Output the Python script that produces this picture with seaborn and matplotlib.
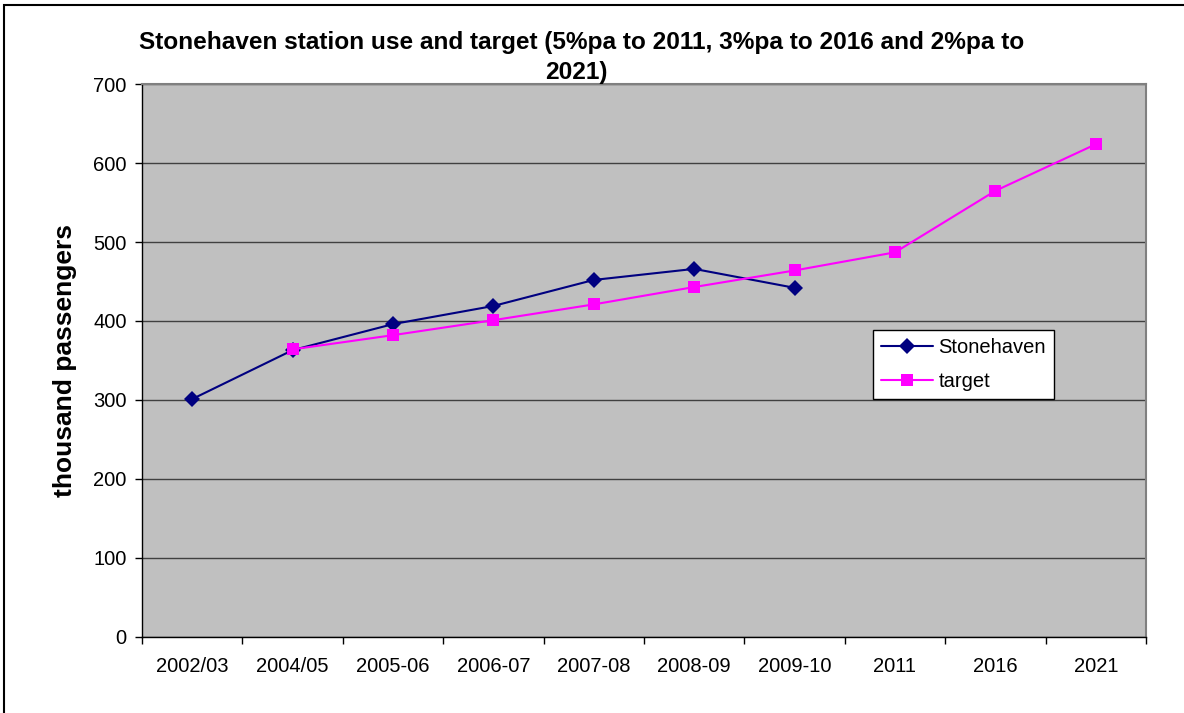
import matplotlib
matplotlib.use("Agg")
import matplotlib.pyplot as plt
import matplotlib.patches as mpatches
import seaborn as sns
import numpy as np
import pandas as pd

categories = ["2002/03", "2004/05", "2005-06", "2006-07", "2007-08", "2008-09",
              "2009-10", "2011", "2016", "2021"]
stonehaven = [301, 363, 396, 419, 452, 466, 442, None, None, None]
target = [None, 364, 382, 401, 421, 443, 464, 487, 565, 624]
y_ticks = [0, 100, 200, 300, 400, 500, 600, 700]

sns.set_theme(style="white")
plt.rcParams['font.family'] = ['Liberation Sans', 'DejaVu Sans']
plt.rcParams['text.color'] = 'black'
plt.rcParams['axes.labelcolor'] = 'black'
plt.rcParams['xtick.color'] = 'black'
plt.rcParams['ytick.color'] = 'black'

rows = []
for i, c in enumerate(categories):
    if stonehaven[i] is not None:
        rows.append({"pos": i, "value": stonehaven[i], "series": "Stonehaven"})
for i, c in enumerate(categories):
    if target[i] is not None:
        rows.append({"pos": i, "value": target[i], "series": "target"})
df = pd.DataFrame(rows)

fig = plt.figure(figsize=(11.84, 7.13), dpi=100)
ax = fig.add_axes([142/1184, 1 - 636.5/713, (1146 - 142)/1184, (636.5 - 84.3)/713])
ax.set_facecolor("#C0C0C0")

palette = {"Stonehaven": "#000080", "target": "#FF00FF"}
markers = {"Stonehaven": "D", "target": "s"}
sns.lineplot(data=df, x="pos", y="value", hue="series", style="series",
             palette=palette, markers=markers, dashes=False, sort=False,
             markersize=8, linewidth=1.5, markeredgewidth=0, ax=ax, zorder=3)

ax.set_xlim(-0.5, len(categories) - 0.5)
ax.set_ylim(0, 700)
ax.set_yticks(y_ticks)
ax.set_yticklabels([str(v) for v in y_ticks], fontsize=14.5, color="black")
ax.yaxis.grid(True, color="#404040", linewidth=1)
ax.xaxis.grid(False)
ax.set_axisbelow(True)

ax.set_xticks(range(len(categories)))
ax.set_xticklabels(categories, fontsize=14.5, color="black")
ax.tick_params(axis="x", which="major", length=0, pad=15)
ax.set_xticks(np.arange(-0.5, len(categories)), minor=True)
ax.tick_params(axis="x", which="minor", length=5, width=1, color="black", direction="out", bottom=True)
ax.tick_params(axis="y", which="major", length=5, width=1, color="black", direction="out", left=True, pad=6)

for s in ["left", "bottom"]:
    ax.spines[s].set_color("black")
    ax.spines[s].set_linewidth(1)
for s in ["top", "right"]:
    ax.spines[s].set_color("#808080")
    ax.spines[s].set_linewidth(1.5)

ax.set_xlabel("")
ax.set_ylabel("thousand passengers", fontsize=19, fontweight="bold", labelpad=12, color="black")

leg = ax.legend(loc="upper left", bbox_to_anchor=((873 - 142)/(1146 - 142), 1 - (330 - 84.3)/(636.5 - 84.3)),
                frameon=True, fancybox=False, fontsize=14.5, handlelength=2.6,
                borderpad=0.4, labelspacing=0.75, handletextpad=0.25, borderaxespad=0)
leg.get_frame().set_edgecolor("black")
leg.get_frame().set_facecolor("white")
leg.get_frame().set_alpha(1)
leg.get_frame().set_linewidth(1)
for t in leg.get_texts():
    t.set_color("black")

fig.text(582/1184, 1 - 43/713, "Stonehaven station use and target (5%pa to 2011, 3%pa to 2016 and 2%pa to",
         ha="center", va="center", fontsize=17.6, fontweight="bold", color="black")
fig.text(576/1184, 1 - 73/713, "2021)", ha="center", va="center", fontsize=17.6, fontweight="bold", color="black")

frame = mpatches.Rectangle((4/1184, -0.1), 1.2, 1 - 5/713 + 0.1, transform=fig.transFigure,
                           fill=False, edgecolor="black", linewidth=1.5, clip_on=False)
fig.patches.append(frame)

fig.savefig("out.png", dpi=100, facecolor="white")
